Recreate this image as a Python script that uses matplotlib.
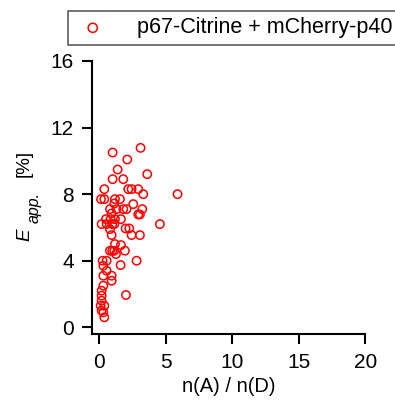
import matplotlib
matplotlib.use("Agg")
import matplotlib.pyplot as plt

plt.rcParams["font.family"] = ["Liberation Sans", "DejaVu Sans"]

# ratio n(A)/n(D) and apparent FRET efficiency (%)
ratio = [1.0, 3.1, 2.1, 1.375, 3.6, 1.0, 1.8, 0.375, 2.175, 2.425, 2.925, 3.3,
         5.875, 0.125, 0.375, 1.175, 1.55, 1.125, 2.55, 0.8, 1.3, 1.8, 2.05,
         3.225, 0.925, 2.925, 3.05, 0.5, 0.85, 1.175, 1.625, 0.175, 0.55, 0.975,
         1.125, 4.55, 0.8, 1.975, 2.25, 0.925, 2.425, 3.05, 1.175, 1.625, 0.8,
         0.975, 1.125, 1.25, 1.925, 2.8, 0.25, 0.55, 0.3, 0.55, 0.3, 0.925,
         0.925, 1.6, 0.3, 0.175, 0.175, 2.0, 0.175, 0.1, 0.375, 0.175, 0.3, 0.375]
e_app = [10.5, 10.78, 10.08, 9.48, 9.2, 8.9, 8.9, 8.3, 8.3, 8.3, 8.3, 8.0,
         8.0, 7.7, 7.7, 7.7, 7.7, 7.44, 7.4, 7.1, 7.1, 7.1, 7.1,
         7.1, 6.84, 6.78, 6.78, 6.5, 6.5, 6.5, 6.5, 6.2, 6.2, 6.2,
         6.2, 6.2, 5.9, 5.94, 5.94, 5.54, 5.54, 5.54, 5.0, 4.94, 4.6,
         4.6, 4.6, 4.4, 4.6, 4.0, 4.0, 4.0, 3.7, 3.4, 3.1, 3.1,
         2.8, 3.74, 2.5, 2.2, 1.9, 1.94, 1.6, 1.3, 1.3, 1.0, 0.9, 0.6]

label = "p67-Citrine + mCherry-p40"
xticks = [0, 5, 10, 15, 20]
yticks = [0, 4, 8, 12, 16]

W, H = 395, 407
fig = plt.figure(figsize=(W / 100, H / 100), dpi=100)
ax = fig.add_axes([0.2329, 0.1794, 0.6924, 0.6708])

ax.scatter(ratio, e_app, s=36, facecolors="none", edgecolors="red",
           linewidths=1.1, label=label)

ax.set_xlim(-0.55, 20)
ax.set_ylim(-0.4, 16)
ax.set_xticks(xticks)
ax.set_yticks(yticks)
ax.spines["top"].set_visible(False)
ax.spines["right"].set_visible(False)
for s in ("left", "bottom"):
    ax.spines[s].set_linewidth(1.5)
ax.tick_params(direction="out", length=7, width=1.5, labelsize=15)
ax.tick_params(axis="x", pad=7)
ax.tick_params(axis="y", pad=6)

ax.set_xlabel("n(A) / n(D)", fontsize=14.5, labelpad=3)

# y label: italic E with italic subscript "app.", then [%]
def px(x, y):
    return x / W, 1 - y / H

fig.text(*px(29, 241), "E", fontsize=13.5, style="italic", rotation=90,
         rotation_mode="anchor", ha="left", va="baseline")
fig.text(*px(38.5, 223), "app.", fontsize=11.5, style="italic", rotation=90,
         rotation_mode="anchor", ha="left", va="baseline")
fig.text(*px(29, 177), "[%]", fontsize=13.5, rotation=90,
         rotation_mode="anchor", ha="left", va="baseline")

leg = ax.legend(loc="upper left", bbox_to_anchor=(68 / W, 1 - 11 / H),
                bbox_transform=fig.transFigure, fontsize=15.5, frameon=True,
                fancybox=False, borderpad=0.3, handletextpad=1.2,
                borderaxespad=0, handlelength=1.7, markerscale=1.1)
leg.get_frame().set_edgecolor("#333333")
leg.get_frame().set_linewidth(1.2)

fig.savefig("out.png", dpi=100)
